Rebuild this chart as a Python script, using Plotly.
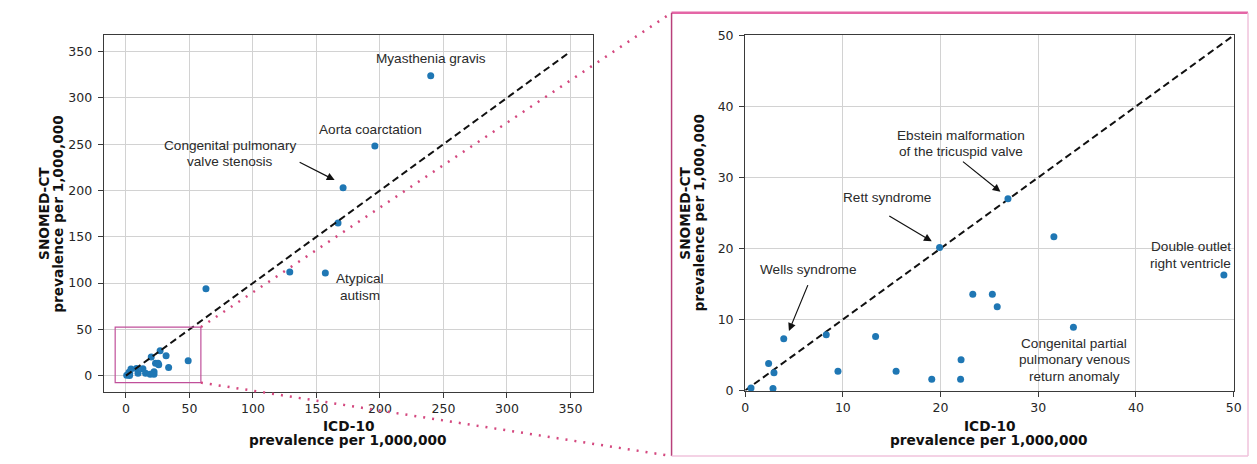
import plotly.graph_objects as go

# Prevalence per 1,000,000 for each condition, coded with ICD-10 vs SNOMED-CT
icd10 = [240, 196, 171, 167, 129, 157, 63,
         0.6, 2.4, 2.95, 2.85, 3.95, 8.3, 9.5, 13.35, 15.45, 19.1, 19.9,
         22.1, 22.05, 23.3, 25.3, 25.8, 26.9, 31.6, 33.6, 49.0]
snomed = [324, 248, 203, 165, 112, 111, 94,
          0.35, 3.8, 2.5, 0.3, 7.3, 7.85, 2.7, 7.6, 2.7, 1.6, 20.15,
          4.35, 1.6, 13.55, 13.55, 11.8, 27.0, 21.65, 8.9, 16.25]

full_range = [-17.5, 367.5]
full_ticks = [0, 50, 100, 150, 200, 250, 300, 350]
zoom_range = [0, 50]
zoom_ticks = [0, 10, 20, 30, 40, 50]
identity_full = [0, 350]
identity_zoom = [0, 50]
inset_x = [-8.5, 59]
inset_y = [-7.5, 52.5]

# (lines, x, y) label blocks
full_labels = [
    (["Myasthenia gravis"], 240, 342.5),
    (["Aorta coarctation"], 192.6, 265.9),
    (["Congenital pulmonary", "valve stenosis"], 81.6, 240),
    (["Atypical", "autism"], 184.4, 95.9),
]
zoom_labels = [
    (["Ebstein malformation", "of the tricuspid valve"], 22.1, 34.8),
    (["Rett syndrome"], 14.5, 27.15),
    (["Wells syndrome"], 6.4, 17.0),
    (["Double outlet", "right ventricle"], 45.6, 19.1),
    (["Congenital partial", "pulmonary venous", "return anomaly"], 33.7, 4.36),
]
# ((tail x, tail y), (head x, head y))
full_arrows = [((135.6, 231.3), (164.3, 211.3))]
zoom_arrows = [((22.14, 32.4), (26.13, 27.97)),
               ((14.6, 24.7), (19.1, 21.0)),
               ((6.48, 15.05), (4.48, 8.38))]

W, H = 1257, 464
POINT = "#1f77b4"
FRAME = "#3a3a3a"
GRID = "#d2d2d2"
PINK = "#d4487f"
TICK_FONT = dict(family="DejaVu Sans", size=12.5, color="#262626")
LABEL_FONT = dict(family="Liberation Sans, Arial", size=13.6, color="#2a2a2a")
TITLE_FONT = dict(family="DejaVu Sans", size=13.7, color="#111111")


def px_x(p):
    return p / W


def px_y(p):
    return 1 - p / H


left_dom_x = [px_x(100.7), px_x(594.3)]
left_dom_y = [px_y(396.7), px_y(28.3)]
right_dom_x = [px_x(748.3), px_x(1241.5)]
right_dom_y = [px_y(395.3), px_y(28.3)]

fig = go.Figure()

# scatter of all conditions (left) and the low-prevalence subset (right)
fig.add_trace(go.Scatter(x=icd10, y=snomed, mode="markers",
                         marker=dict(size=7, color=POINT), xaxis="x", yaxis="y",
                         showlegend=False))
fig.add_trace(go.Scatter(x=identity_full, y=identity_full, mode="lines",
                         line=dict(color="#111111", width=2, dash="7px,4px"),
                         xaxis="x", yaxis="y", showlegend=False))

in_zoom = [zoom_range[0] <= a <= zoom_range[1] and zoom_range[0] <= b <= zoom_range[1]
           for a, b in zip(icd10, snomed)]
zx = [a for a, keep in zip(icd10, in_zoom) if keep]
zy = [b for b, keep in zip(snomed, in_zoom) if keep]
fig.add_trace(go.Scatter(x=identity_zoom, y=identity_zoom, mode="lines",
                         line=dict(color="#111111", width=2, dash="7px,4px"),
                         xaxis="x2", yaxis="y2", showlegend=False, cliponaxis=False))
fig.add_trace(go.Scatter(x=zx, y=zy, mode="markers",
                         marker=dict(size=7, color=POINT), xaxis="x2", yaxis="y2",
                         showlegend=False, cliponaxis=False))

axis_common = dict(showline=True, mirror=True, linecolor=FRAME, linewidth=1.2,
                   ticks="outside", ticklen=5, tickcolor=FRAME, tickwidth=1,
                   showgrid=True, gridcolor=GRID, gridwidth=1, zeroline=False,
                   tickfont=TICK_FONT, fixedrange=True)

fig.update_layout(
    width=W, height=H, margin=dict(l=0, r=0, t=0, b=0, pad=0),
    paper_bgcolor="white", plot_bgcolor="white",
    xaxis=dict(domain=left_dom_x, range=full_range, tickvals=full_ticks, anchor="y", **axis_common),
    yaxis=dict(domain=left_dom_y, range=full_range, tickvals=full_ticks, anchor="x",
               ticklabelstandoff=3, **axis_common),
    xaxis2=dict(domain=right_dom_x, range=zoom_range, tickvals=zoom_ticks, anchor="y2", **axis_common),
    yaxis2=dict(domain=right_dom_y, range=zoom_range, tickvals=zoom_ticks, anchor="x2",
                ticklabelstandoff=3, **axis_common),
)


def to_paper(v, rng, dom):
    return dom[0] + (v - rng[0]) / (rng[1] - rng[0]) * (dom[1] - dom[0])


# magnified region on the left panel and the frame around the right panel
frame_l, frame_r, frame_t, frame_b = px_x(674), px_x(1256), px_y(5), px_y(463)
shapes = [
    dict(type="rect", xref="x", yref="y", x0=inset_x[0], x1=inset_x[1],
         y0=inset_y[0], y1=inset_y[1], line=dict(color="#c04f9a", width=1.2)),
    dict(type="line", xref="paper", yref="paper",
         x0=to_paper(inset_x[1], full_range, left_dom_x), y0=to_paper(inset_y[1], full_range, left_dom_y),
         x1=frame_l, y1=frame_t, line=dict(color=PINK, width=2.5, dash="2px,7px")),
    dict(type="line", xref="paper", yref="paper",
         x0=to_paper(inset_x[1], full_range, left_dom_x), y0=to_paper(inset_y[0], full_range, left_dom_y),
         x1=frame_l, y1=frame_b, line=dict(color=PINK, width=2.5, dash="2px,7px")),
    dict(type="line", xref="paper", yref="paper", x0=frame_l, x1=frame_r, y0=frame_t, y1=frame_t,
         line=dict(color="#e466a6", width=2.5)),
    dict(type="line", xref="paper", yref="paper", x0=frame_l, x1=frame_l, y0=frame_b, y1=frame_t,
         line=dict(color="#b8407a", width=1.5)),
    dict(type="line", xref="paper", yref="paper", x0=frame_r, x1=frame_r, y0=frame_b, y1=frame_t,
         line=dict(color="#f1c3dc", width=1.5)),
    dict(type="line", xref="paper", yref="paper", x0=frame_l, x1=frame_r, y0=frame_b, y1=frame_b,
         line=dict(color="#f1c3dc", width=1.5)),
]
fig.update_layout(shapes=shapes)

LINE_STEP = 16.5
annotations = []
for labels, xr, yr in ((full_labels, "x", "y"), (zoom_labels, "x2", "y2")):
    for lines, lx, ly in labels:
        n = len(lines)
        for i, line in enumerate(lines):
            annotations.append(dict(text=line, x=lx, y=ly, xref=xr, yref=yr,
                                    showarrow=False, xanchor="center", yanchor="middle",
                                    yshift=((n - 1) / 2 - i) * LINE_STEP, font=LABEL_FONT))

for arrows, xr, yr in ((full_arrows, "x", "y"), (zoom_arrows, "x2", "y2")):
    for (tx, ty), (hx, hy) in arrows:
        annotations.append(dict(text="", x=hx, y=hy, xref=xr, yref=yr,
                                ax=tx, ay=ty, axref=xr, ayref=yr, showarrow=True,
                                arrowhead=2, arrowsize=1.3, arrowwidth=1.2,
                                arrowcolor="#111111", standoff=0))

# axis titles
for dom_x, dom_y in ((left_dom_x, left_dom_y), (right_dom_x, right_dom_y)):
    cx = (dom_x[0] + dom_x[1]) / 2
    annotations.append(dict(text="<b>ICD-10</b>", x=cx, y=px_y(431.5), xref="paper", yref="paper",
                            showarrow=False, xanchor="center", yanchor="middle", font=TITLE_FONT))
    annotations.append(dict(text="<b>prevalence per 1,000,000</b>", x=cx, y=px_y(446.8),
                            xref="paper", yref="paper", showarrow=False,
                            xanchor="center", yanchor="middle", font=TITLE_FONT))
    cy = (dom_y[0] + dom_y[1]) / 2
    left_px = dom_x[0] * W
    annotations.append(dict(text="<b>SNOMED-CT</b>", x=px_x(left_px - 61), y=cy, xref="paper", yref="paper",
                            showarrow=False, xanchor="center", yanchor="middle", textangle=-90,
                            font=TITLE_FONT))
    annotations.append(dict(text="<b>prevalence per 1,000,000</b>", x=px_x(left_px - 47), y=cy,
                            xref="paper", yref="paper", showarrow=False,
                            xanchor="center", yanchor="middle", textangle=-90, font=TITLE_FONT))

fig.update_layout(annotations=annotations)
fig.write_html("out.html")
